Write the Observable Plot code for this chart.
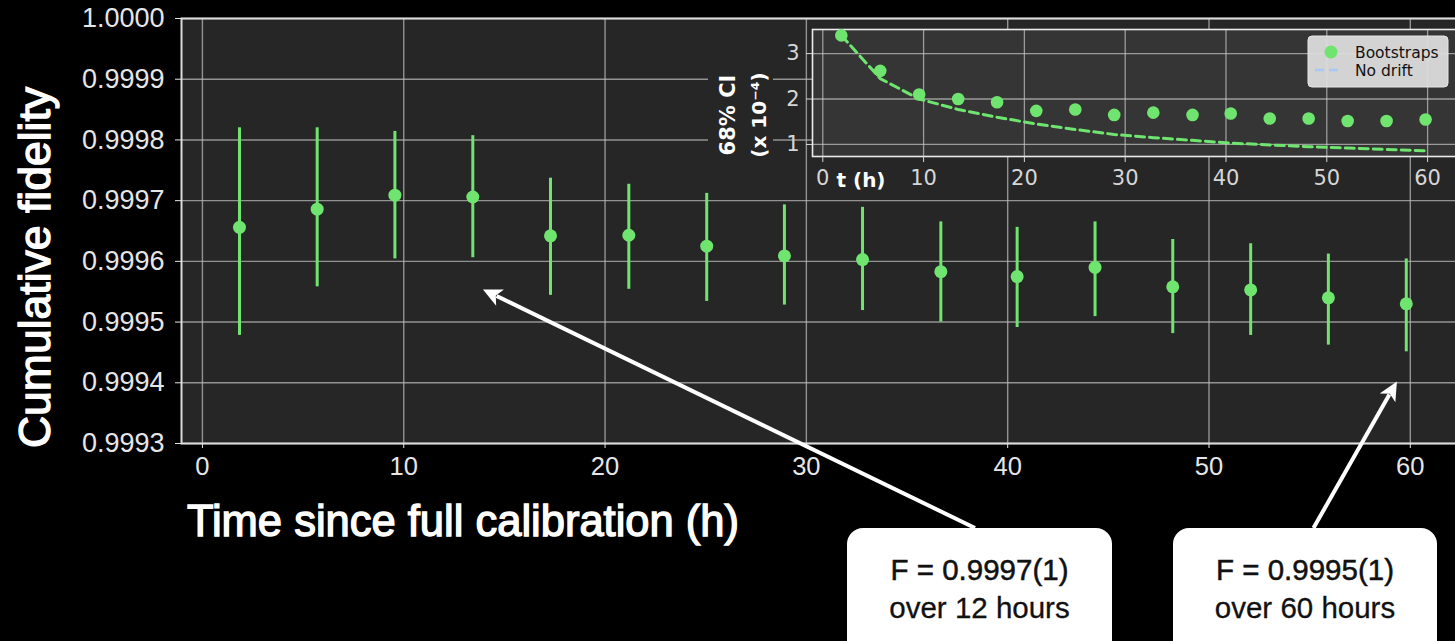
<!DOCTYPE html>
<html><head><meta charset="utf-8">
<script src="https://cdn.jsdelivr.net/npm/d3@7"></script>
<script src="https://cdn.jsdelivr.net/npm/@observablehq/plot@0.6"></script>
<style>
html,body{margin:0;padding:0;background:#000;}
#wrap{position:relative;width:1455px;height:641px;overflow:hidden;background:#000;}
#main{position:absolute;left:0;top:0;width:1470px;}
#inset{position:absolute;left:700px;top:0;width:765px;}
#wrap svg{max-width:none !important;}
</style></head><body><div id="wrap"><div id="main"></div><div id="inset"></div></div>
<script>
// ---- data ----
const times    = [1.84, 5.70, 9.56, 13.43, 17.29, 21.18, 25.05, 28.91, 32.79, 36.68, 40.47, 44.34, 48.20, 52.07, 55.93, 59.80];
const fidelity = [0.999656, 0.999686, 0.999709, 0.999706, 0.999642, 0.999643, 0.999625, 0.999609, 0.999603, 0.999583, 0.999575, 0.999590, 0.999558, 0.999553, 0.999540, 0.999530];
const fidLow   = [0.999478, 0.999558, 0.999604, 0.999606, 0.999544, 0.999554, 0.999534, 0.999528, 0.999519, 0.999500, 0.999491, 0.999509, 0.999481, 0.999478, 0.999462, 0.999451];
const fidHigh  = [0.999820, 0.999820, 0.999814, 0.999807, 0.999737, 0.999727, 0.999712, 0.999693, 0.999689, 0.999665, 0.999656, 0.999665, 0.999636, 0.999629, 0.999612, 0.999604];
const ciBootstrap = [3.40, 2.62, 2.10, 2.00, 1.93, 1.74, 1.77, 1.65, 1.70, 1.65, 1.68, 1.57, 1.57, 1.515, 1.515, 1.55];
const ciNoDrift   = [3.40, 2.45, 2.00, 1.77, 1.60, 1.45, 1.33, 1.22, 1.15, 1.09, 1.03, 0.99, 0.95, 0.92, 0.89, 0.86];
const xTicks = [0, 10, 20, 30, 40, 50, 60];
const yTicks = [0.9993, 0.9994, 0.9995, 0.9996, 0.9997, 0.9998, 0.9999, 1.0000];
const insetXTicks = [0, 10, 20, 30, 40, 50, 60];
const insetYTicks = [1, 2, 3];
const annotations = [
  {line1: "F = 0.9997(1)", line2: "over 12 hours", tipT: 13.96, tipF: 0.999553},
  {line1: "F = 0.9995(1)", line2: "over 60 hours", tipT: 59.36, tipF: 0.9994015}
];

const mainData = times.map((t, i) => ({t, f: fidelity[i], lo: fidLow[i], hi: fidHigh[i]}));
const insetData = times.map((t, i) => ({t, ci: ciBootstrap[i], nd: ciNoDrift[i]}));
const green = "#6fe46f";

// ---- main chart ----
const main = Plot.plot({
  width: 1470, height: 641,
  marginLeft: 181, marginRight: 0, marginTop: 18, marginBottom: 198,
  style: {background: "#000", color: "#e6e6e6", fontFamily: "'Liberation Sans', Arial, sans-serif", fontSize: "27px", overflow: "visible", maxWidth: "none"},
  x: {domain: [-1.04, 62.99], label: null},
  y: {domain: [0.9993, 1.0], label: null},
  marks: [
    Plot.frame({fill: "#262626"}),
    Plot.gridX({ticks: xTicks, stroke: "#b8b8b8", strokeOpacity: 0.75, strokeWidth: 1.4}),
    Plot.gridY({ticks: yTicks, stroke: "#b8b8b8", strokeOpacity: 0.75, strokeWidth: 1.4}),
    Plot.frame({stroke: "#dcdcdc", strokeWidth: 2}),
    Plot.axisX({ticks: xTicks, tickSize: 5, tickPadding: 8, fontSize: 25.5, label: null, color: "#e6e6e6"}),
    Plot.axisY({ticks: yTicks, tickSize: 6, tickPadding: 11, fontSize: 27, tickFormat: d3.format(".4f"), label: null, color: "#e6e6e6"}),
    Plot.ruleX(mainData, {x: "t", y1: "lo", y2: "hi", stroke: green, strokeWidth: 3}),
    Plot.dot(mainData, {x: "t", y: "f", r: 6.5, fill: green})
  ]
});
document.getElementById("main").appendChild(main);

const msvg = d3.select(main);
msvg.selectAll('g[aria-label="y-axis tick label"]').style("font-size", "27px");
msvg.selectAll('g[aria-label="x-axis tick label"]').style("font-size", "25.5px");
// axis titles
msvg.append("text")
  .attr("x", 187).attr("y", 536)
  .attr("text-anchor", "start")
  .attr("font-family", "'Liberation Sans', Arial, sans-serif")
  .attr("font-size", 43.5)
  .attr("fill", "#fff").attr("stroke", "#fff").attr("stroke-width", 1.4).attr("paint-order", "stroke")
  .text("Time since full calibration (h)");
msvg.append("text")
  .attr("transform", "translate(50,267.5) rotate(-90)")
  .attr("text-anchor", "middle")
  .attr("font-family", "'Liberation Sans', Arial, sans-serif")
  .attr("font-size", 44.5)
  .attr("fill", "#fff").attr("stroke", "#fff").attr("stroke-width", 1.4).attr("paint-order", "stroke")
  .text("Cumulative fidelity");

// annotation boxes + arrows
const sx = main.scale("x"), sy = main.scale("y");
const boxLayout = [{x0: 847, x1: 1112, tailX: 975}, {x0: 1173, x1: 1437, tailX: 1313.5}];
annotations.forEach((a, i) => {
  const b = boxLayout[i];
  const top = 528;
  const g = msvg.append("g");
  const tipX = sx.apply(a.tipT), tipY = sy.apply(a.tipF);
  const dx = tipX - b.tailX, dy = tipY - top, len = Math.hypot(dx, dy);
  const ux = dx / len, uy = dy / len, nx = -uy, ny = ux;
  const L = 19, W = 9;
  g.append("line")
    .attr("x1", b.tailX).attr("y1", top)
    .attr("x2", tipX - ux * L * 0.8).attr("y2", tipY - uy * L * 0.8)
    .attr("stroke", "#fff").attr("stroke-width", 4);
  g.append("path")
    .attr("d", `M${tipX},${tipY}L${tipX - ux * L + nx * W},${tipY - uy * L + ny * W}L${tipX - ux * L * 0.75},${tipY - uy * L * 0.75}L${tipX - ux * L - nx * W},${tipY - uy * L - ny * W}Z`)
    .attr("fill", "#fff");
  g.append("rect")
    .attr("x", b.x0).attr("y", top).attr("width", b.x1 - b.x0).attr("height", 130)
    .attr("rx", 16).attr("fill", "#fff");
  const cx = (b.x0 + b.x1) / 2;
  g.append("text").attr("x", cx).attr("y", 580).attr("text-anchor", "middle")
    .attr("font-family", "'Liberation Sans', Arial, sans-serif").attr("font-size", 29.5)
    .attr("fill", "#111").attr("stroke", "#111").attr("stroke-width", 0.5).attr("paint-order", "stroke")
    .text(a.line1);
  g.append("text").attr("x", cx).attr("y", 618).attr("text-anchor", "middle")
    .attr("font-family", "'Liberation Sans', Arial, sans-serif").attr("font-size", 29.5)
    .attr("fill", "#111").attr("stroke", "#111").attr("stroke-width", 0.3).attr("paint-order", "stroke")
    .text(a.line2);
});

// ---- inset ----
const inset = Plot.plot({
  width: 765, height: 200,
  marginLeft: 112, marginRight: 0, marginTop: 29, marginBottom: 44,
  style: {background: "transparent", color: "#d6d6d6", fontFamily: "'DejaVu Sans', sans-serif", fontSize: "20px", overflow: "visible", maxWidth: "none"},
  x: {domain: [-1.02, 63.76], label: null},
  y: {domain: [0.735, 3.53], label: null},
  marks: [
    Plot.frame({fill: "#353535"}),
    Plot.gridX({ticks: insetXTicks, stroke: "#c8c8c8", strokeOpacity: 0.7, strokeWidth: 1.3}),
    Plot.gridY({ticks: insetYTicks, stroke: "#c8c8c8", strokeOpacity: 0.7, strokeWidth: 1.3}),
    Plot.frame({stroke: "#ececec", strokeWidth: 1.6}),
    Plot.axisX({ticks: insetXTicks, tickSize: 6, tickPadding: 8, fontSize: 21, label: null, color: "#d6d6d6", tickFormat: d3.format("d")}),
    Plot.axisY({ticks: insetYTicks, tickSize: 6, tickPadding: 7, fontSize: 21, label: null, color: "#d6d6d6", tickFormat: d3.format("d")}),
    Plot.line(insetData, {x: "t", y: "nd", stroke: green, strokeWidth: 3, strokeDasharray: "9,5"}),
    Plot.dot(insetData, {x: "t", y: "ci", r: 6.3, fill: green})
  ]
});
document.getElementById("inset").appendChild(inset);
const isvg = d3.select(inset);
isvg.selectAll('g[aria-label="y-axis tick label"], g[aria-label="x-axis tick label"]').style("font-size", "21px");
// y label with background
isvg.insert("rect", ":first-child").attr("x", 8).attr("y", 68).attr("width", 65).attr("height", 90).attr("fill", "#262626");
isvg.append("text").attr("transform", "translate(28,115) rotate(-90)")
  .attr("text-anchor", "middle").attr("dominant-baseline", "central")
  .attr("font-family", "'DejaVu Sans', sans-serif").attr("font-weight", "bold").attr("font-size", 21)
  .attr("fill", "#fff").text("68% CI");
isvg.append("text").attr("transform", "translate(59,115) rotate(-90)")
  .attr("text-anchor", "middle").attr("dominant-baseline", "central")
  .attr("font-family", "'DejaVu Sans', sans-serif").attr("font-weight", "bold").attr("font-size", 20)
  .attr("fill", "#fff").text("(x 10\u207B\u2074)");
isvg.append("text").attr("x", 161).attr("y", 187).attr("text-anchor", "middle")
  .attr("font-family", "'DejaVu Sans', sans-serif").attr("font-weight", "bold").attr("font-size", 20)
  .attr("fill", "#fff").text("t (h)");
// legend
const lg = isvg.append("g");
lg.append("rect").attr("x", 608).attr("y", 36).attr("width", 140).attr("height", 51).attr("rx", 4)
  .attr("fill", "#dcdcdc").attr("fill-opacity", 0.95).attr("stroke", "#e6e6e6");
lg.append("circle").attr("cx", 631).attr("cy", 52).attr("r", 6.5).attr("fill", green);
lg.append("line").attr("x1", 615).attr("x2", 643).attr("y1", 70).attr("y2", 70)
  .attr("stroke", "#a8c8f8").attr("stroke-width", 2.5).attr("stroke-dasharray", "9,5");
lg.append("text").attr("x", 655).attr("y", 57.5).attr("text-anchor", "start").attr("font-family", "'DejaVu Sans', sans-serif")
  .attr("font-size", 15.5).attr("fill", "#111").text("Bootstraps");
lg.append("text").attr("x", 655).attr("y", 75.5).attr("text-anchor", "start").attr("font-family", "'DejaVu Sans', sans-serif")
  .attr("font-size", 15.5).attr("fill", "#111").text("No drift");
</script></body></html>
